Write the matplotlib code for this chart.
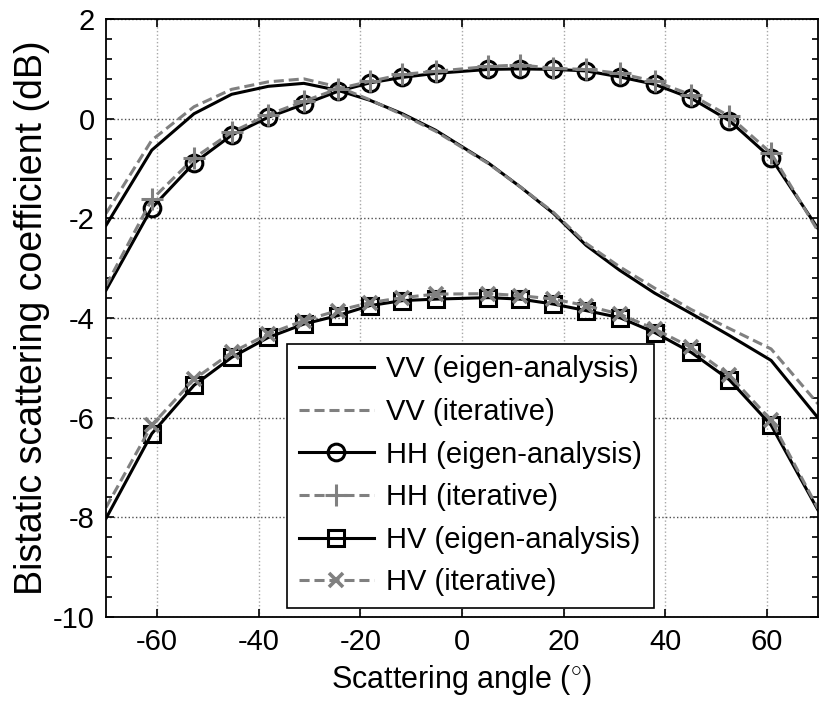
import matplotlib

matplotlib.use("Agg")
import matplotlib.pyplot as plt
from matplotlib.ticker import MultipleLocator

plt.rcParams["font.family"] = ["Liberation Sans", "DejaVu Sans"]
plt.rcParams["mathtext.fontset"] = "custom"
plt.rcParams["mathtext.rm"] = "Liberation Sans"
plt.rcParams["axes.unicode_minus"] = False

# scattering angles (deg) shared by every curve
angle = [-70, -61.0, -52.7, -45.3, -38.1, -31.1, -24.4, -18.1, -11.7, -5.2,
         5.2, 11.5, 18.0, 24.4, 31.0, 37.9, 45.1, 52.6, 60.8, 70]

vv_eigen = [-2.14, -0.63, 0.10, 0.49, 0.65, 0.71, 0.57, 0.37, 0.10, -0.23,
            -0.89, -1.37, -1.90, -2.54, -3.04, -3.50, -3.91, -4.35, -4.85, -6.00]
vv_iter = [-1.90, -0.43, 0.24, 0.59, 0.74, 0.80, 0.64, 0.38, 0.08, -0.25,
           -0.90, -1.37, -1.88, -2.50, -2.97, -3.40, -3.83, -4.21, -4.62, -5.72]

hh_eigen = [-3.44, -1.79, -0.89, -0.33, 0.03, 0.29, 0.55, 0.72, 0.83, 0.91,
            0.99, 1.00, 0.99, 0.96, 0.84, 0.69, 0.41, -0.04, -0.79, -2.20]
hh_iter = [-3.35, -1.62, -0.79, -0.27, 0.08, 0.35, 0.60, 0.75, 0.89, 0.95,
           1.05, 1.08, 1.01, 0.99, 0.91, 0.75, 0.48, 0.05, -0.69, -2.25]

hv_eigen = [-8.02, -6.32, -5.35, -4.79, -4.39, -4.12, -3.95, -3.75, -3.65, -3.62,
            -3.59, -3.62, -3.72, -3.85, -3.99, -4.29, -4.69, -5.24, -6.15, -7.85]
hv_iter = [-7.80, -6.15, -5.23, -4.69, -4.32, -4.05, -3.85, -3.69, -3.59, -3.52,
           -3.51, -3.55, -3.62, -3.75, -3.92, -4.22, -4.59, -5.15, -6.05, -7.82]

labels = [
    "VV (eigen-analysis)", "VV (iterative)",
    "HH (eigen-analysis)", "HH (iterative)",
    "HV (eigen-analysis)", "HV (iterative)",
]

GRAY = "#808080"
LW = 2.2
DASH = (3.3, 1.6)

fig = plt.figure(figsize=(8.22, 7.06), dpi=100)
ax = fig.add_axes([0.129, 0.126, 0.866, 0.847])

marks = slice(1, -1)

ax.plot(angle, vv_eigen, color="black", lw=LW, label=labels[0])
ax.plot(angle, vv_iter, color=GRAY, lw=LW, dashes=DASH, label=labels[1])
ax.plot(angle, hh_eigen, color="black", lw=LW, marker="o", ms=12,
        mfc="none", mew=2.2, markevery=marks, label=labels[2])
ax.plot(angle, hh_iter, color=GRAY, lw=LW, dashes=DASH, marker="+", ms=16,
        mew=2.2, markevery=marks, label=labels[3])
ax.plot(angle, hv_eigen, color="black", lw=LW, marker="s", ms=12,
        mfc="none", mew=2.2, markevery=marks, label=labels[4])
ax.plot(angle, hv_iter, color=GRAY, lw=LW, dashes=DASH, marker="x", ms=10,
        mew=2.6, markevery=marks, label=labels[5])

ax.set_xlim(-70, 70)
ax.set_ylim(-10, 2)
ax.xaxis.set_major_locator(MultipleLocator(20))
ax.yaxis.set_major_locator(MultipleLocator(2))
ax.yaxis.set_minor_locator(MultipleLocator(0.4))

ax.xaxis.grid(True, which="major", color="#a8a8a8", linestyle=":", lw=1.0)
ax.yaxis.grid(True, which="major", color="#505050", linestyle=":", lw=1.0)

ax.tick_params(which="both", direction="in", top=True, right=True,
               labelsize=21, width=1.2)
ax.tick_params(which="major", length=6, pad=8)
ax.tick_params(which="minor", length=4)
for spine in ax.spines.values():
    spine.set_linewidth(1.3)

ax.set_xlabel("Scattering angle ($^{\\circ}$)", fontsize=22, labelpad=5)
ax.set_ylabel("Bistatic scattering coefficient (dB)", fontsize=27, labelpad=2)

leg = ax.legend(loc="lower left", bbox_to_anchor=(0.254, 0.015),
                fontsize=21, frameon=True, fancybox=False,
                edgecolor="black", framealpha=1, borderaxespad=0,
                handlelength=2.6, handletextpad=0.4, labelspacing=0.5,
                borderpad=0.4)
leg.get_frame().set_linewidth(1.2)

plt.savefig("out.png", dpi=100)
plt.close()
